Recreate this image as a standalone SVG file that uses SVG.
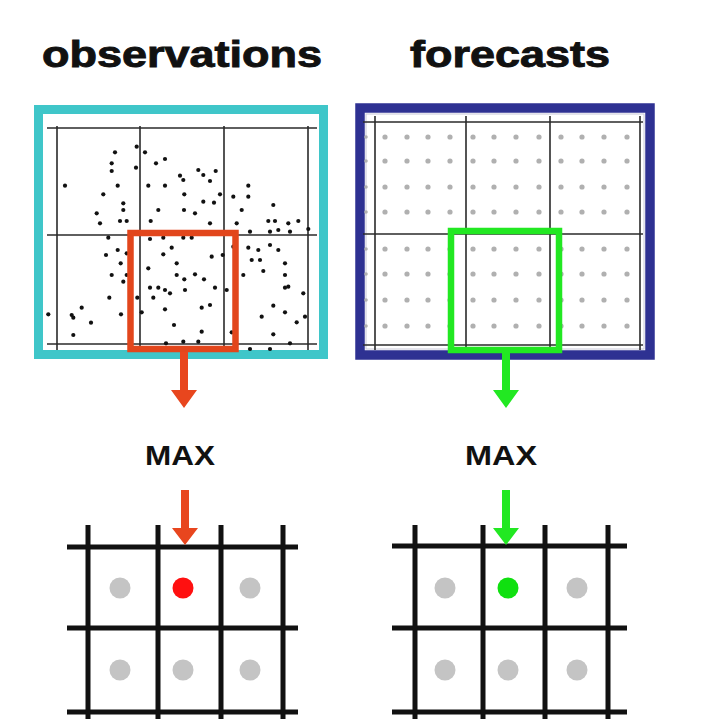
<svg xmlns="http://www.w3.org/2000/svg" width="701" height="719" viewBox="0 0 701 719">
<style>
.title{font-family:"Liberation Sans",Arial,sans-serif;font-weight:bold;fill:#111;stroke:#111;stroke-width:0.9;}
.max{font-family:"Liberation Sans",Arial,sans-serif;font-weight:bold;font-size:28px;fill:#111;}
.thin{stroke:#2a2a2a;stroke-width:1.6;fill:none;}
.thick{stroke:#111;stroke-width:5;fill:none;}
.ob circle{fill:#111;}
.gd{fill:#c4c4c4;}
</style>
<defs>
<g id="fc-row" fill="#b0b0b0">
<circle cx="366" cy="0" r="1.8"/><circle cx="385" cy="0" r="2.6"/><circle cx="407" cy="0" r="2.6"/><circle cx="428" cy="0" r="2.6"/><circle cx="450" cy="0" r="2.6"/><circle cx="473" cy="0" r="2.6"/><circle cx="494" cy="0" r="2.6"/><circle cx="516" cy="0" r="2.6"/><circle cx="539" cy="0" r="2.6"/><circle cx="561" cy="0" r="2.6"/><circle cx="582" cy="0" r="2.6"/><circle cx="604" cy="0" r="2.6"/><circle cx="627" cy="0" r="2.6"/>
</g>
</defs>
<rect width="701" height="719" fill="#ffffff"/>

<g id="title-observations"><text class="title" x="42" y="67" font-size="36" textLength="280" lengthAdjust="spacingAndGlyphs">observations</text></g>
<g id="title-forecasts"><text class="title" x="410" y="67" font-size="36" textLength="200" lengthAdjust="spacingAndGlyphs">forecasts</text></g>

<g id="observations-panel">
<rect x="38.5" y="109.5" width="285" height="245" fill="#ffffff" stroke="#3FC6C9" stroke-width="9"/>
<g class="thin">
<line x1="47" y1="128" x2="317" y2="128"/>
<line x1="47" y1="235" x2="317" y2="235"/>
<line x1="47" y1="344" x2="317" y2="344"/>
<line x1="57" y1="126" x2="57" y2="350"/>
<line x1="140" y1="126" x2="140" y2="350"/>
<line x1="224" y1="126" x2="224" y2="350"/>
<line x1="308" y1="126" x2="308" y2="350"/>
</g>
<g class="ob">
<circle cx="65" cy="185.7" r="2.1"/><circle cx="115" cy="152.3" r="2.1"/><circle cx="111.7" cy="163.3" r="2.1"/><circle cx="111.7" cy="171" r="2.1"/><circle cx="117.7" cy="185.7" r="2.1"/><circle cx="103.3" cy="194.3" r="2.1"/><circle cx="123.3" cy="203.3" r="2.1"/><circle cx="123.3" cy="210" r="2.1"/><circle cx="96.7" cy="213.3" r="2.1"/><circle cx="100" cy="223.3" r="2.1"/><circle cx="120" cy="221" r="2.1"/><circle cx="126.7" cy="221" r="2.1"/><circle cx="136.7" cy="146.7" r="2.1"/><circle cx="145" cy="152.3" r="2.1"/><circle cx="136" cy="167.7" r="2.1"/><circle cx="108.3" cy="237.7" r="2.1"/>
<circle cx="156" cy="163.3" r="2.1"/><circle cx="165" cy="159" r="2.1"/><circle cx="148.3" cy="185.7" r="2.1"/><circle cx="165" cy="185.7" r="2.1"/><circle cx="180" cy="175.7" r="2.1"/><circle cx="183.3" cy="180" r="2.1"/><circle cx="198.3" cy="170" r="2.1"/><circle cx="203.3" cy="175" r="2.1"/><circle cx="210" cy="181" r="2.1"/><circle cx="215.7" cy="171" r="2.1"/><circle cx="184.3" cy="194.3" r="2.1"/><circle cx="203.3" cy="201.7" r="2.1"/><circle cx="214" cy="202.7" r="2.1"/><circle cx="220" cy="194.3" r="2.1"/><circle cx="158.3" cy="210" r="2.1"/><circle cx="184" cy="210" r="2.1"/><circle cx="195" cy="213.3" r="2.1"/><circle cx="150.7" cy="221" r="2.1"/><circle cx="210" cy="223.3" r="2.1"/><circle cx="163.3" cy="237.7" r="2.1"/><circle cx="191.7" cy="237.7" r="2.1"/><circle cx="183.3" cy="237.7" r="2.1"/>
<circle cx="233.3" cy="196.7" r="2.1"/><circle cx="248.3" cy="185.7" r="2.1"/><circle cx="248.3" cy="196.7" r="2.1"/><circle cx="241.7" cy="210" r="2.1"/><circle cx="236.7" cy="223.3" r="2.1"/><circle cx="273.3" cy="205" r="2.1"/><circle cx="268.3" cy="221" r="2.1"/><circle cx="275" cy="221" r="2.1"/><circle cx="288.3" cy="223.3" r="2.1"/><circle cx="298.3" cy="221" r="2.1"/><circle cx="270" cy="231.7" r="2.1"/><circle cx="278.3" cy="230" r="2.1"/><circle cx="290" cy="231.7" r="2.1"/><circle cx="308.3" cy="229" r="2.1"/><circle cx="250" cy="231.7" r="2.1"/>
<circle cx="48.3" cy="314.3" r="2.1"/><circle cx="71.7" cy="315" r="2.1"/><circle cx="73.3" cy="317.7" r="2.1"/><circle cx="81.7" cy="307.7" r="2.1"/><circle cx="91" cy="322.7" r="2.1"/><circle cx="73.3" cy="335" r="2.1"/><circle cx="109.3" cy="297.7" r="2.1"/><circle cx="111.7" cy="275" r="2.1"/><circle cx="106" cy="255" r="2.1"/><circle cx="117.7" cy="250" r="2.1"/><circle cx="120.7" cy="263.3" r="2.1"/><circle cx="126.7" cy="253.3" r="2.1"/><circle cx="123.3" cy="281.7" r="2.1"/><circle cx="126.7" cy="275" r="2.1"/><circle cx="121" cy="314.3" r="2.1"/><circle cx="137.3" cy="297.7" r="2.1"/><circle cx="141.7" cy="312.3" r="2.1"/>
<circle cx="148.3" cy="268.3" r="2.1"/><circle cx="150" cy="287.7" r="2.1"/><circle cx="158.3" cy="287.7" r="2.1"/><circle cx="165" cy="290" r="2.1"/><circle cx="170" cy="293.3" r="2.1"/><circle cx="153.3" cy="297.7" r="2.1"/><circle cx="163.3" cy="254.3" r="2.1"/><circle cx="171.7" cy="247.7" r="2.1"/><circle cx="176.7" cy="275" r="2.1"/><circle cx="176.7" cy="263.3" r="2.1"/><circle cx="184.3" cy="279.3" r="2.1"/><circle cx="185" cy="290" r="2.1"/><circle cx="195" cy="274.3" r="2.1"/><circle cx="204" cy="279.3" r="2.1"/><circle cx="215" cy="287.7" r="2.1"/><circle cx="211.7" cy="256.7" r="2.1"/><circle cx="222.7" cy="255" r="2.1"/><circle cx="210" cy="305" r="2.1"/><circle cx="201.7" cy="307.7" r="2.1"/><circle cx="165" cy="309.3" r="2.1"/><circle cx="174" cy="325" r="2.1"/><circle cx="201.7" cy="331.7" r="2.1"/><circle cx="166" cy="343.3" r="2.1"/><circle cx="183.3" cy="341.7" r="2.1"/><circle cx="198.3" cy="341.7" r="2.1"/><circle cx="226.7" cy="290" r="2.1"/><circle cx="150" cy="239" r="2.1"/>
<circle cx="233.3" cy="246.7" r="2.1"/><circle cx="248.3" cy="247.7" r="2.1"/><circle cx="258.3" cy="250" r="2.1"/><circle cx="270" cy="245" r="2.1"/><circle cx="278.3" cy="250" r="2.1"/><circle cx="251.7" cy="260" r="2.1"/><circle cx="260" cy="260" r="2.1"/><circle cx="263.3" cy="271" r="2.1"/><circle cx="285" cy="263.3" r="2.1"/><circle cx="285" cy="275" r="2.1"/><circle cx="243.3" cy="275" r="2.1"/><circle cx="285" cy="287.7" r="2.1"/><circle cx="288.3" cy="286.7" r="2.1"/><circle cx="303.3" cy="293.3" r="2.1"/><circle cx="273.3" cy="305.7" r="2.1"/><circle cx="285" cy="312.3" r="2.1"/><circle cx="305" cy="316.7" r="2.1"/><circle cx="296.7" cy="322.3" r="2.1"/><circle cx="261.7" cy="316.7" r="2.1"/><circle cx="273.3" cy="334.3" r="2.1"/><circle cx="250" cy="349" r="2.1"/><circle cx="270" cy="349" r="2.1"/><circle cx="290" cy="343.3" r="2.1"/><circle cx="231.7" cy="332.3" r="2.1"/>
</g>
<rect x="130.5" y="233" width="105" height="116" fill="none" stroke="#E2461C" stroke-width="6.5"/>
</g>

<g id="forecasts-panel">
<rect x="360" y="108" width="290" height="247" fill="#ffffff" stroke="#2E3192" stroke-width="9.5"/>
<rect x="366" y="114" width="278" height="235" fill="none" stroke="#c8c8d8" stroke-width="1"/>
<g class="thin">
<line x1="363" y1="122" x2="643" y2="122"/>
<line x1="363" y1="234" x2="643" y2="234"/>
<line x1="363" y1="345" x2="643" y2="345"/>
<line x1="375" y1="116" x2="375" y2="350"/>
<line x1="466" y1="116" x2="466" y2="350"/>
<line x1="550" y1="116" x2="550" y2="350"/>
<line x1="640" y1="116" x2="640" y2="350"/>
</g>
<use href="#fc-row" y="137"/>
<use href="#fc-row" y="161"/>
<use href="#fc-row" y="187"/>
<use href="#fc-row" y="212"/>
<use href="#fc-row" y="249"/>
<use href="#fc-row" y="274"/>
<use href="#fc-row" y="300"/>
<use href="#fc-row" y="326"/>
<rect x="451" y="231" width="108" height="119" fill="none" stroke="#22E822" stroke-width="6.5"/>
</g>

<g id="label-max-left"><text class="max" x="145" y="465" textLength="70" lengthAdjust="spacingAndGlyphs">MAX</text></g>
<g id="label-max-right"><text class="max" x="465" y="465" textLength="72" lengthAdjust="spacingAndGlyphs">MAX</text></g>

<g id="grid-obs-max">
<g class="thick">
<line x1="67" y1="547" x2="298" y2="547"/>
<line x1="67" y1="628" x2="298" y2="628"/>
<line x1="67" y1="712" x2="298" y2="712"/>
<line x1="88" y1="525" x2="88" y2="719"/>
<line x1="158" y1="525" x2="158" y2="719"/>
<line x1="221" y1="525" x2="221" y2="719"/>
<line x1="283" y1="525" x2="283" y2="719"/>
</g>
<circle class="gd" cx="120" cy="588" r="10.5"/>
<circle cx="183" cy="588" r="10.5" fill="#FF1010"/>
<circle class="gd" cx="250" cy="588" r="10.5"/>
<circle class="gd" cx="120" cy="670" r="10.5"/>
<circle class="gd" cx="183" cy="670" r="10.5"/>
<circle class="gd" cx="250" cy="670" r="10.5"/>
</g>

<g id="grid-fc-max">
<g class="thick">
<line x1="392" y1="546" x2="627" y2="546"/>
<line x1="392" y1="628" x2="627" y2="628"/>
<line x1="392" y1="712" x2="627" y2="712"/>
<line x1="415" y1="525" x2="415" y2="719"/>
<line x1="483" y1="525" x2="483" y2="719"/>
<line x1="545" y1="525" x2="545" y2="719"/>
<line x1="608" y1="525" x2="608" y2="719"/>
</g>
<circle class="gd" cx="445" cy="588" r="10.5"/>
<circle cx="508" cy="588" r="10.5" fill="#10E010"/>
<circle class="gd" cx="577" cy="588" r="10.5"/>
<circle class="gd" cx="445" cy="670" r="10.5"/>
<circle class="gd" cx="508" cy="670" r="10.5"/>
<circle class="gd" cx="577" cy="670" r="10.5"/>
</g>

<g id="connectors">
<path d="M180,352 h8 v38 h9 l-13,18 l-13,-18 h9 z" fill="#E8461E"/>
<path d="M181,490 h8 v38 h9 l-13,17 l-13,-17 h9 z" fill="#E8461E"/>
<path d="M502,353 h8 v37 h9 l-13,18 l-13,-18 h9 z" fill="#22E822"/>
<path d="M502,490 h8 v38 h9 l-13,17 l-13,-17 h9 z" fill="#22E822"/>
</g>
</svg>
